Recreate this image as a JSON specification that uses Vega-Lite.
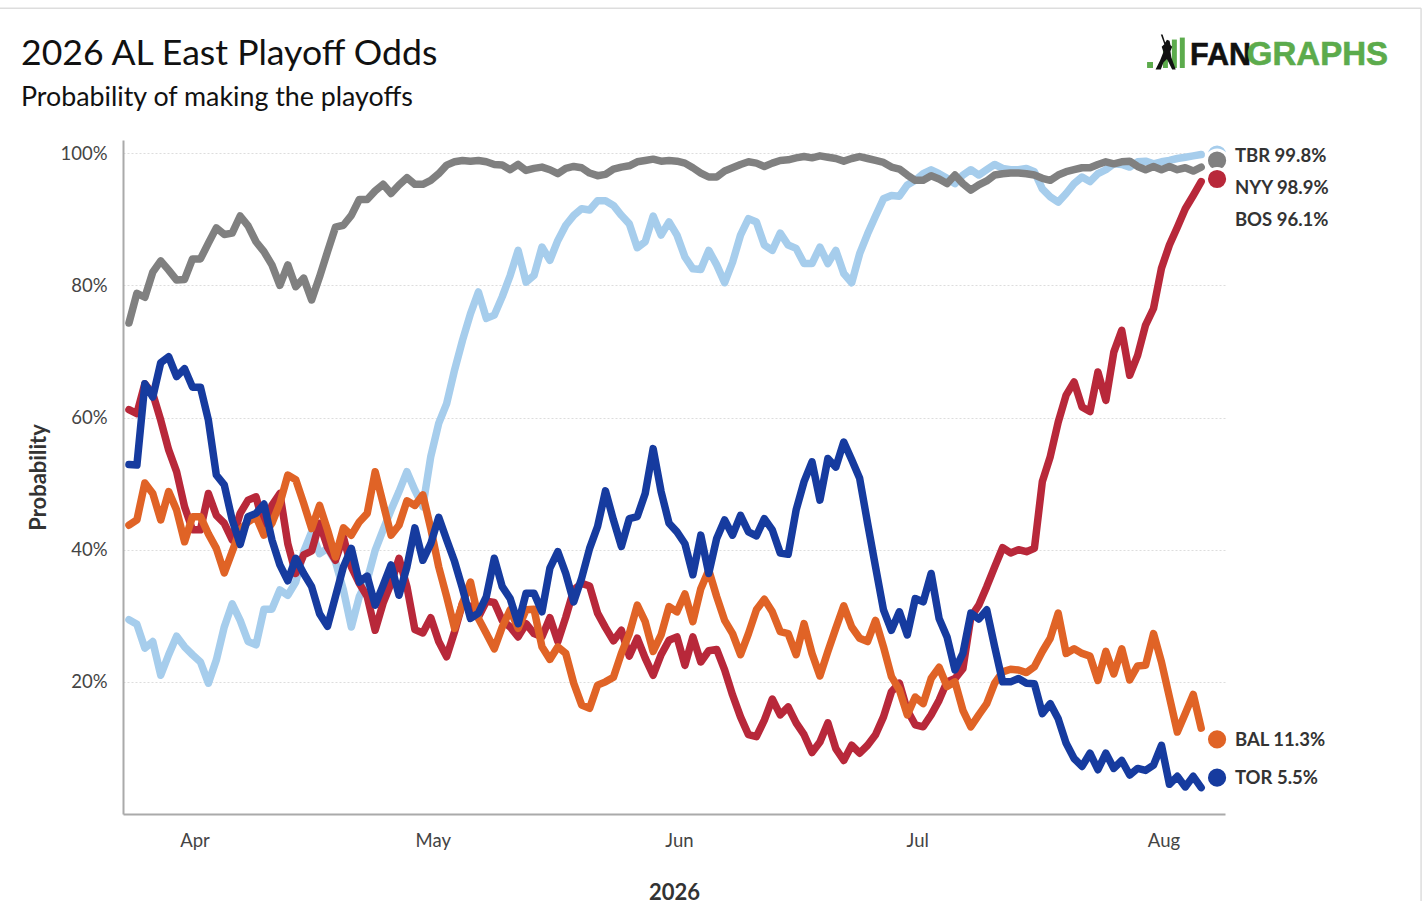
{"$schema":"https://vega.github.io/schema/vega-lite/v6.json","width":1102,"height":674,"autosize":{"type":"none"},"padding":{"left":123,"top":140,"right":203,"bottom":87},"background":"white","config":{"view":{"stroke":null},"font":"Lato"},
"title":{"text":"2026 AL East Playoff Odds","subtitle":"Probability of making the playoffs","anchor":"start","frame":"group","dx":-102,"offset":-104,"font":"Lato","fontSize":35.6,"fontWeight":"normal","color":"#111111","subtitleFont":"Lato","subtitleFontSize":26.8,"subtitleColor":"#111111","subtitlePadding":12},
"datasets":{"odds":[
{"d":"2026-03-24","TBR":29.4,"NYY":74.3,"BOS":61.2,"BAL":43.7,"TOR":52.9},
{"d":"2026-03-25","TBR":28.7,"NYY":78.8,"BOS":60.6,"BAL":44.5,"TOR":52.8},
{"d":"2026-03-26","TBR":25.1,"NYY":78.2,"BOS":65.1,"BAL":50.1,"TOR":65.1},
{"d":"2026-03-27","TBR":26.1,"NYY":82.0,"BOS":63.6,"BAL":48.5,"TOR":63.1},
{"d":"2026-03-28","TBR":21.0,"NYY":83.7,"BOS":59.6,"BAL":44.5,"TOR":68.3},
{"d":"2026-03-29","TBR":24.1,"NYY":82.3,"BOS":55.1,"BAL":48.8,"TOR":69.2},
{"d":"2026-03-30","TBR":26.9,"NYY":80.8,"BOS":51.8,"BAL":46.0,"TOR":66.2},
{"d":"2026-03-31","TBR":25.3,"NYY":80.9,"BOS":46.5,"BAL":41.2,"TOR":67.4},
{"d":"2026-04-01","TBR":24.1,"NYY":84.0,"BOS":43.0,"BAL":45.0,"TOR":64.6},
{"d":"2026-04-02","TBR":23.0,"NYY":84.0,"BOS":43.0,"BAL":45.0,"TOR":64.6},
{"d":"2026-04-03","TBR":19.8,"NYY":86.4,"BOS":48.5,"BAL":42.4,"TOR":59.6},
{"d":"2026-04-04","TBR":23.3,"NYY":88.7,"BOS":45.2,"BAL":40.2,"TOR":51.3},
{"d":"2026-04-05","TBR":28.3,"NYY":87.7,"BOS":44.0,"BAL":36.5,"TOR":49.8},
{"d":"2026-04-06","TBR":31.8,"NYY":87.9,"BOS":41.5,"BAL":39.7,"TOR":44.5},
{"d":"2026-04-07","TBR":29.3,"NYY":90.5,"BOS":45.5,"BAL":43.0,"TOR":40.8},
{"d":"2026-04-08","TBR":26.1,"NYY":89.0,"BOS":47.5,"BAL":44.2,"TOR":45.0},
{"d":"2026-04-09","TBR":25.6,"NYY":86.6,"BOS":48.0,"BAL":45.0,"TOR":45.5},
{"d":"2026-04-10","TBR":31.0,"NYY":85.1,"BOS":43.5,"BAL":42.2,"TOR":46.9},
{"d":"2026-04-11","TBR":31.0,"NYY":83.1,"BOS":46.7,"BAL":44.0,"TOR":41.5},
{"d":"2026-04-12","TBR":33.9,"NYY":80.0,"BOS":48.5,"BAL":47.0,"TOR":37.7},
{"d":"2026-04-13","TBR":33.1,"NYY":83.1,"BOS":40.9,"BAL":51.3,"TOR":35.3},
{"d":"2026-04-14","TBR":35.1,"NYY":79.8,"BOS":36.4,"BAL":50.6,"TOR":38.7},
{"d":"2026-04-15","TBR":39.7,"NYY":81.1,"BOS":39.2,"BAL":47.0,"TOR":36.4},
{"d":"2026-04-16","TBR":42.7,"NYY":77.8,"BOS":39.8,"BAL":43.2,"TOR":34.4},
{"d":"2026-04-17","TBR":39.4,"NYY":81.3,"BOS":44.0,"BAL":46.7,"TOR":30.3},
{"d":"2026-04-18","TBR":40.2,"NYY":85.1,"BOS":40.4,"BAL":43.0,"TOR":28.4},
{"d":"2026-04-19","TBR":38.2,"NYY":88.8,"BOS":38.4,"BAL":38.9,"TOR":32.9},
{"d":"2026-04-20","TBR":33.9,"NYY":89.1,"BOS":41.9,"BAL":43.3,"TOR":37.4},
{"d":"2026-04-21","TBR":28.3,"NYY":90.6,"BOS":37.4,"BAL":42.2,"TOR":40.2},
{"d":"2026-04-22","TBR":32.9,"NYY":93.0,"BOS":34.9,"BAL":44.2,"TOR":35.1},
{"d":"2026-04-23","TBR":35.4,"NYY":93.0,"BOS":32.9,"BAL":45.5,"TOR":36.0},
{"d":"2026-04-24","TBR":39.9,"NYY":94.3,"BOS":27.8,"BAL":51.8,"TOR":31.6},
{"d":"2026-04-25","TBR":43.0,"NYY":95.3,"BOS":31.9,"BAL":47.0,"TOR":34.6},
{"d":"2026-04-26","TBR":46.0,"NYY":93.9,"BOS":34.9,"BAL":42.2,"TOR":37.7},
{"d":"2026-04-27","TBR":48.8,"NYY":95.2,"BOS":38.7,"BAL":43.7,"TOR":33.1},
{"d":"2026-04-28","TBR":51.8,"NYY":96.3,"BOS":34.4,"BAL":47.4,"TOR":37.4},
{"d":"2026-04-29","TBR":49.0,"NYY":95.3,"BOS":27.9,"BAL":46.7,"TOR":43.3},
{"d":"2026-04-30","TBR":46.5,"NYY":95.3,"BOS":27.4,"BAL":48.3,"TOR":38.4},
{"d":"2026-05-01","TBR":54.1,"NYY":95.9,"BOS":29.7,"BAL":43.2,"TOR":40.9},
{"d":"2026-05-02","TBR":59.1,"NYY":96.9,"BOS":26.1,"BAL":37.4,"TOR":44.9},
{"d":"2026-05-03","TBR":62.1,"NYY":98.2,"BOS":23.8,"BAL":32.9,"TOR":41.5},
{"d":"2026-05-04","TBR":67.2,"NYY":98.7,"BOS":27.6,"BAL":28.1,"TOR":38.2},
{"d":"2026-05-05","TBR":71.7,"NYY":98.9,"BOS":31.9,"BAL":31.9,"TOR":34.1},
{"d":"2026-05-06","TBR":75.7,"NYY":98.8,"BOS":31.4,"BAL":35.1,"TOR":29.6},
{"d":"2026-05-07","TBR":79.0,"NYY":98.9,"BOS":29.8,"BAL":29.6,"TOR":30.4},
{"d":"2026-05-08","TBR":75.0,"NYY":98.7,"BOS":32.2,"BAL":27.3,"TOR":32.9},
{"d":"2026-05-09","TBR":75.5,"NYY":98.3,"BOS":32.0,"BAL":25.0,"TOR":38.7},
{"d":"2026-05-10","TBR":78.3,"NYY":98.2,"BOS":29.3,"BAL":28.3,"TOR":34.4},
{"d":"2026-05-11","TBR":81.5,"NYY":97.5,"BOS":28.3,"BAL":30.9,"TOR":32.6},
{"d":"2026-05-12","TBR":85.3,"NYY":98.3,"BOS":26.8,"BAL":28.1,"TOR":28.8},
{"d":"2026-05-13","TBR":80.5,"NYY":97.4,"BOS":28.8,"BAL":30.9,"TOR":33.4},
{"d":"2026-05-14","TBR":81.5,"NYY":97.7,"BOS":27.3,"BAL":31.0,"TOR":33.4},
{"d":"2026-05-15","TBR":85.8,"NYY":97.9,"BOS":26.8,"BAL":25.3,"TOR":30.6},
{"d":"2026-05-16","TBR":83.8,"NYY":97.5,"BOS":29.7,"BAL":23.4,"TOR":37.2},
{"d":"2026-05-17","TBR":86.8,"NYY":96.9,"BOS":26.1,"BAL":25.3,"TOR":39.7},
{"d":"2026-05-18","TBR":89.1,"NYY":97.7,"BOS":29.8,"BAL":24.3,"TOR":36.4},
{"d":"2026-05-19","TBR":90.6,"NYY":98.0,"BOS":33.9,"BAL":19.8,"TOR":32.1},
{"d":"2026-05-20","TBR":91.6,"NYY":97.8,"BOS":34.9,"BAL":16.5,"TOR":35.7},
{"d":"2026-05-21","TBR":91.4,"NYY":97.0,"BOS":34.5,"BAL":16.0,"TOR":40.2},
{"d":"2026-05-22","TBR":92.8,"NYY":96.6,"BOS":30.4,"BAL":19.5,"TOR":43.5},
{"d":"2026-05-23","TBR":92.8,"NYY":96.8,"BOS":28.2,"BAL":20.0,"TOR":48.9},
{"d":"2026-05-24","TBR":92.1,"NYY":97.6,"BOS":26.2,"BAL":20.7,"TOR":44.5},
{"d":"2026-05-25","TBR":90.6,"NYY":97.9,"BOS":27.8,"BAL":24.3,"TOR":40.5},
{"d":"2026-05-26","TBR":89.3,"NYY":98.1,"BOS":23.9,"BAL":27.3,"TOR":44.7},
{"d":"2026-05-27","TBR":85.7,"NYY":98.7,"BOS":26.6,"BAL":31.6,"TOR":45.0},
{"d":"2026-05-28","TBR":86.6,"NYY":98.9,"BOS":23.6,"BAL":29.1,"TOR":48.5},
{"d":"2026-05-29","TBR":90.5,"NYY":99.1,"BOS":21.0,"BAL":24.6,"TOR":55.3},
{"d":"2026-05-30","TBR":87.6,"NYY":98.8,"BOS":24.1,"BAL":27.1,"TOR":48.8},
{"d":"2026-05-31","TBR":89.6,"NYY":98.9,"BOS":26.3,"BAL":31.4,"TOR":44.0},
{"d":"2026-06-01","TBR":87.6,"NYY":98.8,"BOS":26.8,"BAL":30.6,"TOR":42.7},
{"d":"2026-06-02","TBR":84.3,"NYY":98.5,"BOS":22.5,"BAL":33.3,"TOR":40.9},
{"d":"2026-06-03","TBR":82.5,"NYY":97.8,"BOS":26.8,"BAL":29.1,"TOR":36.2},
{"d":"2026-06-04","TBR":82.4,"NYY":97.0,"BOS":23.0,"BAL":34.1,"TOR":42.2},
{"d":"2026-06-05","TBR":85.3,"NYY":96.4,"BOS":24.7,"BAL":36.9,"TOR":36.4},
{"d":"2026-06-06","TBR":83.1,"NYY":96.4,"BOS":24.9,"BAL":32.9,"TOR":41.7},
{"d":"2026-06-07","TBR":80.4,"NYY":97.3,"BOS":21.8,"BAL":29.3,"TOR":44.5},
{"d":"2026-06-08","TBR":83.5,"NYY":97.8,"BOS":18.0,"BAL":27.3,"TOR":42.2},
{"d":"2026-06-09","TBR":87.6,"NYY":98.3,"BOS":14.7,"BAL":24.1,"TOR":45.2},
{"d":"2026-06-10","TBR":90.1,"NYY":98.7,"BOS":12.0,"BAL":27.3,"TOR":42.7},
{"d":"2026-06-11","TBR":89.6,"NYY":98.5,"BOS":11.7,"BAL":30.9,"TOR":42.1},
{"d":"2026-06-12","TBR":86.1,"NYY":98.0,"BOS":14.2,"BAL":32.5,"TOR":44.7},
{"d":"2026-06-13","TBR":85.3,"NYY":98.5,"BOS":17.4,"BAL":30.6,"TOR":43.0},
{"d":"2026-06-14","TBR":87.9,"NYY":98.9,"BOS":15.0,"BAL":27.6,"TOR":39.5},
{"d":"2026-06-15","TBR":86.1,"NYY":99.0,"BOS":16.2,"BAL":27.3,"TOR":39.3},
{"d":"2026-06-16","TBR":85.6,"NYY":99.3,"BOS":13.8,"BAL":24.1,"TOR":46.0},
{"d":"2026-06-17","TBR":83.3,"NYY":99.5,"BOS":12.0,"BAL":28.8,"TOR":50.3},
{"d":"2026-06-18","TBR":83.3,"NYY":99.3,"BOS":9.3,"BAL":24.3,"TOR":53.3},
{"d":"2026-06-19","TBR":85.8,"NYY":99.6,"BOS":10.9,"BAL":20.9,"TOR":47.5},
{"d":"2026-06-20","TBR":83.3,"NYY":99.4,"BOS":13.8,"BAL":24.6,"TOR":53.8},
{"d":"2026-06-21","TBR":85.3,"NYY":99.2,"BOS":9.9,"BAL":28.1,"TOR":52.5},
{"d":"2026-06-22","TBR":81.8,"NYY":98.8,"BOS":8.1,"BAL":31.5,"TOR":56.3},
{"d":"2026-06-23","TBR":80.4,"NYY":99.2,"BOS":10.4,"BAL":28.3,"TOR":53.6},
{"d":"2026-06-24","TBR":84.8,"NYY":99.5,"BOS":9.2,"BAL":26.6,"TOR":50.8},
{"d":"2026-06-25","TBR":87.8,"NYY":99.2,"BOS":10.4,"BAL":26.1,"TOR":44.0},
{"d":"2026-06-26","TBR":90.5,"NYY":98.9,"BOS":12.0,"BAL":29.3,"TOR":37.4},
{"d":"2026-06-27","TBR":93.1,"NYY":98.6,"BOS":14.7,"BAL":25.3,"TOR":30.9},
{"d":"2026-06-28","TBR":93.6,"NYY":97.9,"BOS":18.5,"BAL":20.8,"TOR":27.8},
{"d":"2026-06-29","TBR":93.5,"NYY":97.6,"BOS":19.8,"BAL":18.8,"TOR":30.6},
{"d":"2026-06-30","TBR":95.2,"NYY":96.7,"BOS":15.7,"BAL":15.0,"TOR":27.1},
{"d":"2026-07-01","TBR":95.9,"NYY":95.9,"BOS":13.5,"BAL":17.7,"TOR":32.6},
{"d":"2026-07-02","TBR":96.9,"NYY":95.9,"BOS":13.2,"BAL":16.7,"TOR":32.1},
{"d":"2026-07-03","TBR":97.5,"NYY":96.6,"BOS":15.0,"BAL":20.5,"TOR":36.4},
{"d":"2026-07-04","TBR":96.9,"NYY":96.1,"BOS":17.2,"BAL":22.2,"TOR":29.6},
{"d":"2026-07-05","TBR":96.2,"NYY":95.4,"BOS":20.0,"BAL":19.3,"TOR":26.8},
{"d":"2026-07-06","TBR":95.4,"NYY":96.7,"BOS":20.5,"BAL":20.0,"TOR":21.8},
{"d":"2026-07-07","TBR":96.7,"NYY":95.4,"BOS":22.0,"BAL":15.7,"TOR":24.3},
{"d":"2026-07-08","TBR":97.5,"NYY":94.4,"BOS":29.8,"BAL":13.2,"TOR":30.4},
{"d":"2026-07-09","TBR":96.7,"NYY":95.2,"BOS":31.6,"BAL":15.0,"TOR":29.5},
{"d":"2026-07-10","TBR":97.5,"NYY":95.8,"BOS":34.4,"BAL":16.7,"TOR":30.9},
{"d":"2026-07-11","TBR":98.3,"NYY":96.7,"BOS":37.4,"BAL":19.8,"TOR":25.3},
{"d":"2026-07-12","TBR":97.7,"NYY":96.9,"BOS":40.3,"BAL":21.5,"TOR":20.0},
{"d":"2026-07-13","TBR":97.5,"NYY":97.0,"BOS":39.5,"BAL":21.9,"TOR":20.0},
{"d":"2026-07-14","TBR":97.5,"NYY":97.0,"BOS":40.0,"BAL":21.8,"TOR":20.5},
{"d":"2026-07-15","TBR":97.7,"NYY":96.9,"BOS":39.7,"BAL":21.4,"TOR":19.8},
{"d":"2026-07-16","TBR":97.2,"NYY":96.7,"BOS":40.2,"BAL":22.3,"TOR":19.7},
{"d":"2026-07-17","TBR":94.6,"NYY":96.2,"BOS":50.3,"BAL":24.6,"TOR":15.2},
{"d":"2026-07-18","TBR":93.4,"NYY":95.9,"BOS":54.1,"BAL":26.6,"TOR":16.7},
{"d":"2026-07-19","TBR":92.6,"NYY":96.7,"BOS":59.3,"BAL":30.4,"TOR":14.4},
{"d":"2026-07-20","TBR":93.9,"NYY":97.2,"BOS":63.4,"BAL":24.3,"TOR":10.7},
{"d":"2026-07-21","TBR":95.4,"NYY":97.5,"BOS":65.4,"BAL":25.0,"TOR":8.4},
{"d":"2026-07-22","TBR":96.4,"NYY":97.8,"BOS":61.6,"BAL":24.3,"TOR":7.2},
{"d":"2026-07-23","TBR":95.7,"NYY":97.8,"BOS":60.9,"BAL":23.9,"TOR":9.2},
{"d":"2026-07-24","TBR":96.9,"NYY":98.3,"BOS":66.9,"BAL":20.2,"TOR":6.7},
{"d":"2026-07-25","TBR":97.5,"NYY":98.7,"BOS":62.6,"BAL":24.6,"TOR":9.2},
{"d":"2026-07-26","TBR":98.4,"NYY":98.4,"BOS":69.9,"BAL":21.2,"TOR":6.9},
{"d":"2026-07-27","TBR":98.3,"NYY":98.7,"BOS":73.2,"BAL":25.0,"TOR":8.1},
{"d":"2026-07-28","TBR":97.9,"NYY":98.8,"BOS":66.4,"BAL":20.3,"TOR":5.9},
{"d":"2026-07-29","TBR":98.7,"NYY":98.0,"BOS":69.4,"BAL":22.4,"TOR":6.9},
{"d":"2026-07-30","TBR":98.8,"NYY":97.5,"BOS":74.0,"BAL":22.5,"TOR":6.6},
{"d":"2026-07-31","TBR":98.4,"NYY":98.0,"BOS":76.5,"BAL":27.3,"TOR":7.4},
{"d":"2026-08-01","TBR":98.7,"NYY":97.5,"BOS":82.6,"BAL":23.0,"TOR":10.4},
{"d":"2026-08-02","TBR":98.9,"NYY":98.0,"BOS":86.1,"BAL":17.7,"TOR":4.5},
{"d":"2026-08-03","TBR":99.2,"NYY":97.5,"BOS":88.8,"BAL":12.4,"TOR":5.7},
{"d":"2026-08-04","TBR":99.4,"NYY":97.8,"BOS":91.6,"BAL":15.2,"TOR":4.1},
{"d":"2026-08-05","TBR":99.6,"NYY":97.3,"BOS":93.6,"BAL":18.1,"TOR":5.7},
{"d":"2026-08-06","TBR":99.8,"NYY":97.9,"BOS":95.7,"BAL":13.0,"TOR":4.0}
],
"final":[
{"d":"2026-08-08","team":"TBR","v":99.8},
{"d":"2026-08-08","team":"NYY","v":98.9},
{"d":"2026-08-08","team":"BOS","v":96.1},
{"d":"2026-08-08","team":"BAL","v":11.3},
{"d":"2026-08-08","team":"TOR","v":5.5}
],
"labels":[
{"d":"2026-08-10T06:00:00Z","label":"TBR 99.8%","v":99.6},
{"d":"2026-08-10T06:00:00Z","label":"NYY 98.9%","v":94.75},
{"d":"2026-08-10T06:00:00Z","label":"BOS 96.1%","v":89.9},
{"d":"2026-08-10T06:00:00Z","label":"BAL 11.3%","v":11.25},
{"d":"2026-08-10T06:00:00Z","label":"TOR 5.5%","v":5.5}
],
"logoBars":[
{"d":"2026-07-30T04:30:00Z","d2":"2026-07-30T22:30:00Z","v":113.8,"v2":112.9},
{"d":"2026-08-01T04:30:00Z","d2":"2026-08-01T19:30:00Z","v":115.6,"v2":112.9},
{"d":"2026-08-02T07:30:00Z","d2":"2026-08-02T22:30:00Z","v":117.2,"v2":112.9},
{"d":"2026-08-03T07:30:00Z","d2":"2026-08-03T22:30:00Z","v":117.5,"v2":112.9}
],
"logoBatter":[{"d":"2026-08-01T13:54:00Z","v":115.3}],
"logoFan":[{"d":"2026-08-04T14:24:00Z","v":113.3,"t":"FAN"}],
"logoGraphs":[{"d":"2026-08-11T18:00:00Z","v":113.3,"t":"GRAPHS"}],
"frameTop":[{"d":"2026-03-07T18:15:00Z","d2":"2026-09-02T16:30:00Z","v":121.94}],
"frameRight":[{"d":"2026-09-02T16:30:00Z","v":121.94,"v2":-13.2}]
},
"encoding":{
"x":{"field":"d","type":"temporal","scale":{"type":"utc","domain":["2026-03-23T06:00:00Z","2026-08-09T00:00:00Z"]},
"axis":{"title":"2026","titleFont":"Lato","titleFontSize":22,"titleFontWeight":"bold","titleColor":"#333333","titlePadding":33,"values":[{"year":2026,"month":4,"date":1,"hours":6,"utc":true},{"year":2026,"month":5,"date":1,"hours":6,"utc":true},{"year":2026,"month":6,"date":1,"hours":6,"utc":true},{"year":2026,"month":7,"date":1,"hours":6,"utc":true},{"year":2026,"month":8,"date":1,"hours":6,"utc":true}],"format":"%b","ticks":false,"grid":false,"labelFont":"Lato","labelFontSize":18.5,"labelColor":"#444444","labelPadding":17,"domainColor":"#aaaaaa","domainWidth":2}},
"y":{"field":"v","type":"quantitative","scale":{"domain":[0,102],"nice":false,"zero":false},
"axis":{"title":"Probability","titleFont":"Lato","titleFontSize":22,"titleFontWeight":"bold","titleColor":"#333333","titlePadding":9,"values":[20,40,60,80,100],"labelExpr":"datum.value+'%'","labelOffset":0,"ticks":false,"grid":true,"gridColor":"#dddddd","gridDash":[2,2],"gridWidth":1,"labelFont":"Lato","labelFontSize":18.5,"labelColor":"#444444","labelPadding":16,"domainColor":"#aaaaaa","domainWidth":2}}
},
"layer":[
{"data":{"name":"frameTop"},"mark":{"type":"rule","color":"#dddddd","strokeWidth":1.5},"encoding":{"x2":{"field":"d2"}}},
{"data":{"name":"frameRight"},"mark":{"type":"rule","color":"#dddddd","strokeWidth":1.5},"encoding":{"y2":{"field":"v2"}}},
{"data":{"name":"odds"},"transform":[{"fold":["TBR","NYY","BOS","BAL","TOR"],"as":["team","v"]}],"mark":{"type":"line","strokeWidth":7.5,"strokeJoin":"round","strokeCap":"round"},"encoding":{"color":{"field":"team","type":"nominal","legend":null,"sort":null,"scale":{"domain":["TBR","NYY","BOS","BAL","TOR"],"range":["#a6cdec","#808080","#b8283a","#e06326","#163b9f"]}}}},
{"data":{"name":"final"},"mark":{"type":"point","filled":true,"size":450,"opacity":1,"stroke":"white","strokeWidth":3},"encoding":{"fill":{"field":"team","type":"nominal","legend":null,"sort":null,"scale":{"domain":["TBR","NYY","BOS","BAL","TOR"],"range":["#a6cdec","#808080","#b8283a","#e06326","#163b9f"]}}}},
{"data":{"name":"labels"},"mark":{"type":"text","align":"left","baseline":"middle","font":"Lato","fontSize":18.5,"fontWeight":"bold","color":"#333333"},"encoding":{"text":{"field":"label"}}},
{"data":{"name":"logoBars"},"mark":{"type":"rect","color":"#5cab4c"},"encoding":{"x2":{"field":"d2"},"y2":{"field":"v2"}}},
{"data":{"name":"logoBatter"},"mark":{"type":"point","filled":true,"opacity":1,"color":"#111111","size":1225,"strokeWidth":0,"shape":"M-0.3 -1 L-0.2 -1 L-0.05 -0.55 L0.05 -0.7 L0.2 -0.65 L0.25 -0.4 L0.35 -0.3 L0.25 -0.05 L0.3 0.3 L0.55 1 L0.35 1 L0.05 0.4 L-0.15 0.6 L-0.3 1 L-0.6 1 L-0.35 0.5 L-0.15 0 L-0.25 -0.3 L-0.1 -0.45 Z"}},
{"data":{"name":"logoFan"},"mark":{"type":"text","align":"left","baseline":"alphabetic","font":"Liberation Sans","fontSize":30.5,"fontWeight":"bold","color":"#111111","stroke":"#111111","strokeWidth":0.6},"encoding":{"text":{"field":"t"}}},
{"data":{"name":"logoGraphs"},"mark":{"type":"text","align":"left","baseline":"alphabetic","font":"Liberation Sans","fontSize":33,"fontWeight":"bold","color":"#5cab4c","stroke":"#5cab4c","strokeWidth":0.6},"encoding":{"text":{"field":"t"}}}
]}
